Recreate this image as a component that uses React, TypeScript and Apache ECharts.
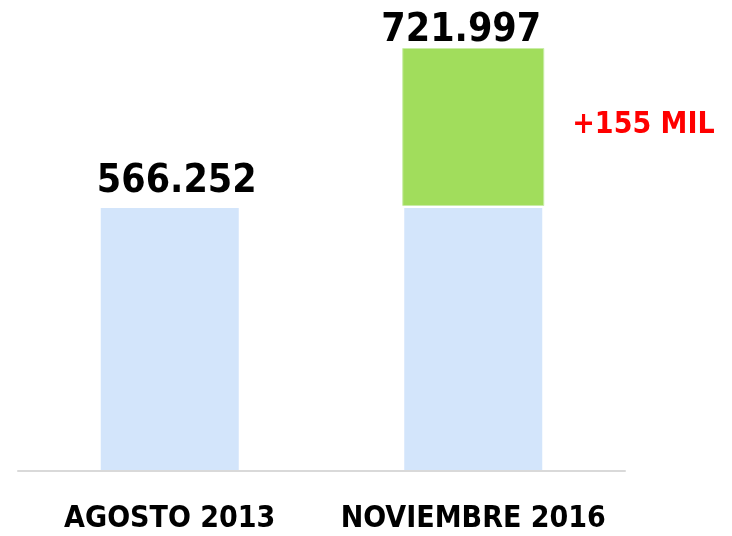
import React, { useEffect, useRef } from "react";
import * as echarts from "echarts";

const categories = ["AGOSTO 2013", "NOVIEMBRE 2016"];
const baseValues = [566252, 566252];
const totals = [566252, 721997];
const increaseLabel = "+155 MIL";

const FONT = '"DejaVu Sans Condensed", "Liberation Sans Narrow", "DejaVu Sans", sans-serif';

function fmt(v: number): string {
  return String(v).replace(/\B(?=(\d{3})+(?!\d))/g, ".");
}

export default function App() {
  const ref = useRef<HTMLDivElement>(null);
  useEffect(() => {
    if (!ref.current) return;
    const chart = echarts.init(ref.current, null, { renderer: "svg" });
    const increase = totals.map((t, i) => (i === 0 ? "-" : t - baseValues[i]));
    chart.setOption({
      animation: false,
      grid: { left: 18, right: 107, top: 48, bottom: 65, containLabel: false },
      xAxis: {
        type: "category",
        data: categories,
        z: 5,
        axisLine: { lineStyle: { color: "#d9d9d9", width: 2 } },
        axisTick: { show: false },
        axisLabel: {
          interval: 0,
          margin: 30,
          fontFamily: FONT,
          fontWeight: "bold",
          fontSize: 30,
          color: "#000",
        },
      },
      yAxis: {
        type: "value",
        min: 305000,
        max: 721997,
        show: false,
        splitLine: { show: false },
      },
      series: [
        {
          name: "base",
          type: "bar",
          stack: "s",
          data: baseValues,
          barWidth: 142,
          itemStyle: { color: "#d3e5fb", borderColor: "#ffffff", borderWidth: 2 },
        },
        {
          name: "increase",
          type: "bar",
          stack: "s",
          data: increase,
          barWidth: 142,
          itemStyle: { color: "#a1dd5c", borderColor: "#c9eda8", borderWidth: 1 },
          label: {
            show: true,
            position: "right",
            distance: 28,
            offset: [0, -4],
            formatter: () => increaseLabel,
            fontFamily: FONT,
            fontWeight: "bold",
            fontSize: 30,
            color: "#ff0000",
          },
        },
        {
          name: "total",
          type: "bar",
          stack: "s",
          data: totals.map((t, i) => ({
            value: 0,
            label: { offset: i === 0 ? [7, -2] : [-12, 5] },
          })),
          barWidth: 142,
          itemStyle: { color: "transparent" },
          label: {
            show: true,
            position: "top",
            distance: 6,
            formatter: (p: any) => fmt(totals[p.dataIndex]),
            fontFamily: FONT,
            fontWeight: "bold",
            fontSize: 39,
            color: "#000",
          },
        },
      ],
    });
    return () => chart.dispose();
  }, []);
  return (
    <div
      ref={ref}
      style={{ position: "fixed", left: 0, top: 0, width: 732, height: 536 }}
    />
  );
}
